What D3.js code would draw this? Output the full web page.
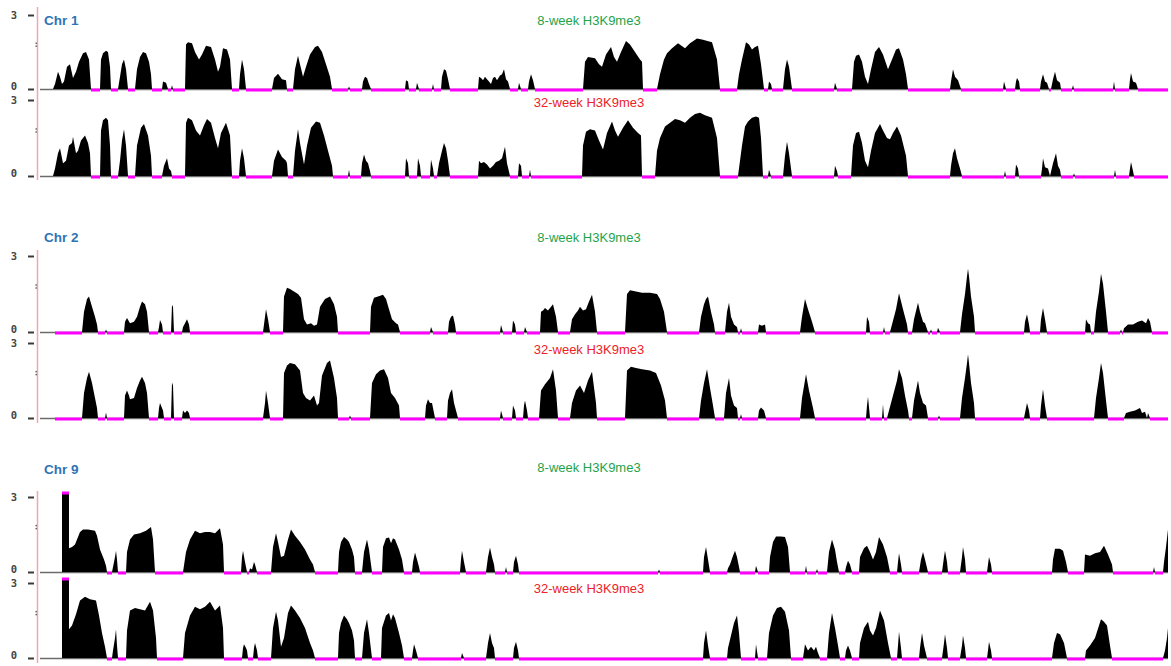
<!DOCTYPE html>
<html>
<head>
<meta charset="utf-8">
<script src="https://cdn.jsdelivr.net/npm/d3@7"></script>
<style>
  body { margin: 0; background: #fff; }
  svg { display: block; }
</style>
</head>
<body>
<svg id="chart" width="1171" height="666"></svg>
<script>
// H3K9me3 coverage profiles: [window position, signal] vertices.
// Runs of zero signal are drawn as magenta baseline segments.

const chromosomes = ["Chr 1", "Chr 2", "Chr 9"];
const trackLabels = ["8-week H3K9me3", "32-week H3K9me3"];
const axisTicks = [0, 3];
const midMark = 1.8;
const viewMax = 3.2;
const windowLength = 1128;

const chr1Week8 = [
  [13,0],[15,0.2],[18,0.7],[20,0.5],[22,0.2],[24,0.3],[27,0.9],[30,1.0],[33,0.45],[36,0.7],[39,1.1],[43,1.45],[46,1.5],[49,1.2],[51,0],
  [60,0],[61,1.2],[63,1.45],[66,1.55],[68,1.5],[70,0.9],[71,0],
  [78,0],[80,0.5],[82,1.0],[84,1.2],[86,0.8],[88,0],
  [95,0],[97,0.8],[100,1.3],[103,1.5],[106,1.45],[109,1.1],[111,0.6],[112,0],
  [122,0],[123,0.3],[126,0.25],[128,0],[131,0],[132,0.15],[133,0],
  [145,0],[146,1.8],[148,1.9],[152,1.85],[155,1.5],[159,1.2],[162,1.4],[166,1.75],[171,1.7],[175,1.2],[178,0.7],[180,0.9],[183,1.65],[187,1.6],[190,1.2],[192,0],
  [199,0],[200,0.6],[202,1.2],[204,0.8],[206,0],
  [232,0],[234,0.45],[238,0.62],[242,0.4],[246,0.35],[247,0],
  [253,0],[255,0.8],[258,1.35],[260,1.0],[263,0.5],[266,0.9],[270,1.4],[275,1.7],[278,1.75],[282,1.5],[286,1.0],[290,0.5],[292,0],
  [308,0],[309,0.1],[310,0],
  [322,0],[323,0.3],[325,0.5],[327,0.45],[329,0.2],[331,0],
  [365,0],[366,0.35],[368,0.3],[369,0],
  [376,0],[377,0.25],[379,0],
  [392,0],[393,0.2],[394,0],
  [401,0],[402,0.5],[404,0.8],[406,0.75],[408,0.4],[410,0],
  [438,0],[439,0.5],[441,0.45],[443,0.35],[445,0.5],[447,0.4],[449,0.3],[451,0.2],[453,0.45],[455,0.5],[457,0.35],[460,0.55],[462,0.6],[464,0.8],[466,0.4],[468,0.3],[470,0],
  [478,0],[479,0.25],[481,0],
  [488,0],[489,0.3],[491,0.6],[493,0.35],[495,0],
  [543,0],[545,1.1],[548,1.3],[555,1.25],[559,1.0],[562,0.9],[566,1.4],[571,1.7],[574,1.3],[577,1.1],[581,1.5],[586,1.95],[590,1.8],[595,1.5],[600,1.2],[602,1.1],[603,0],
  [617,0],[620,0.6],[624,1.2],[627,1.45],[632,1.65],[638,1.85],[645,1.65],[650,1.85],[657,2.05],[663,2.0],[672,1.9],[677,1.2],[680,0],
  [697,0],[699,0.6],[702,1.2],[706,1.9],[709,1.8],[712,1.6],[715,1.7],[718,1.75],[721,1.0],[724,0],
  [728,0],[729,0.3],[731,0.2],[732,0],
  [743,0],[745,0.8],[747,1.2],[749,0.9],[752,0],
  [794,0],[795,0.25],[797,0],
  [812,0],[814,1.1],[816,1.35],[819,1.4],[822,1.1],[825,0.5],[828,0.2],[831,0.8],[835,1.5],[839,1.7],[843,1.4],[848,0.8],[852,1.2],[856,1.6],[859,1.65],[863,1.2],[866,0.6],[868,0],
  [910,0],[911,0.3],[913,0.8],[915,0.5],[918,0.35],[921,0],
  [963,0],[964,0.3],[966,0],
  [975,0],[976,0.3],[977,0.45],[979,0.3],[980,0],
  [1000,0],[1001,0.3],[1003,0.6],[1005,0.3],[1007,0.25],[1009,0],[1011,0],[1013,0.4],[1015,0.7],[1017,0.35],[1020,0.25],[1021,0],
  [1032,0],[1033,0.15],[1034,0],
  [1073,0],[1074,0.3],[1075,0],
  [1089,0],[1090,0.4],[1091,0.65],[1093,0.3],[1096,0.25],[1098,0],
  [1128,0]
];

const chr1Week32 = [
  [13,0],[15,0.3],[18,0.9],[20,1.1],[23,0.5],[26,0.6],[29,1.2],[32,1.3],[33,1.55],[36,0.9],[38,1.0],[41,1.4],[45,1.6],[48,1.3],[50,0.9],[51,0],
  [60,0],[61,1.8],[63,2.2],[66,2.3],[68,2.2],[70,1.2],[71,0],
  [78,0],[80,0.6],[82,1.4],[84,1.85],[86,1.2],[88,0],
  [95,0],[97,1.2],[101,1.9],[104,2.05],[108,1.6],[111,0.8],[112,0],
  [122,0],[124,0.4],[127,0.7],[129,0.3],[131,0.2],[132,0],
  [145,0],[146,2.1],[148,2.3],[152,2.2],[156,1.8],[160,1.6],[164,2.0],[167,2.25],[171,2.1],[175,1.5],[178,1.1],[181,1.7],[186,2.1],[190,1.6],[192,0],
  [199,0],[200,0.6],[202,1.1],[204,0.7],[206,0],
  [232,0],[234,0.6],[238,1.05],[242,0.75],[246,0.6],[247,0.5],[248,0],
  [253,0],[255,1.0],[258,1.85],[260,1.3],[264,0.45],[267,1.2],[271,1.9],[276,2.15],[280,2.1],[284,1.6],[288,1.0],[292,0.4],[293,0],
  [308,0],[309,0.25],[310,0],
  [321,0],[322,0.5],[324,0.85],[326,0.6],[328,0.5],[330,0.2],[331,0],
  [365,0],[366,0.7],[368,0.5],[369,0],
  [377,0],[378,0.7],[380,0.4],[381,0],
  [390,0],[391,0.65],[393,0.3],[394,0],
  [397,0],[399,0.5],[402,1.0],[404,1.3],[406,1.1],[408,0.6],[410,0],
  [438,0],[439,0.6],[441,0.5],[444,0.55],[447,0.45],[450,0.3],[453,0.4],[456,0.55],[459,0.6],[462,0.7],[465,1.15],[467,0.5],[470,0],
  [478,0],[479,0.5],[481,0.4],[482,0],
  [489,0],[490,0.25],[491,0],
  [542,0],[543,1.2],[546,1.75],[550,1.85],[555,1.8],[559,1.4],[563,1.05],[567,1.7],[572,2.15],[575,1.8],[578,1.55],[583,1.9],[588,2.2],[593,1.9],[598,1.7],[601,1.6],[602,0],
  [615,0],[617,1.0],[620,1.5],[625,1.95],[630,2.1],[635,2.25],[640,2.2],[645,2.1],[650,2.3],[655,2.45],[660,2.5],[665,2.4],[672,2.3],[677,1.5],[680,0],
  [698,0],[700,0.6],[702,1.2],[705,1.95],[708,2.15],[712,2.3],[716,2.35],[719,2.3],[721,1.5],[723,0],
  [728,0],[729,0.25],[731,0],
  [743,0],[745,0.8],[747,1.35],[749,0.9],[752,0],
  [794,0],[795,0.4],[797,0.2],[798,0],
  [811,0],[813,1.2],[816,1.7],[819,1.75],[822,1.3],[825,0.6],[828,0.35],[831,1.0],[835,1.7],[840,2.05],[843,1.8],[847,1.5],[850,1.45],[853,1.7],[857,1.95],[861,1.6],[866,0.8],[868,0],
  [910,0],[911,0.4],[913,0.9],[915,1.1],[917,0.7],[920,0.3],[922,0],
  [964,0],[965,0.2],[966,0],
  [975,0],[976,0.45],[978,0.3],[979,0],
  [1001,0],[1002,0.3],[1003,0.7],[1005,0.35],[1008,0.3],[1010,0],[1013,0.5],[1016,0.9],[1018,0.4],[1020,0.25],[1021,0],
  [1033,0],[1034,0.1],[1035,0],
  [1074,0],[1075,0.25],[1076,0],
  [1089,0],[1090,0.3],[1091,0.55],[1093,0.2],[1094,0],
  [1128,0]
];

const chr2Week8 = [
  [15,0],
  [42,0],[44,0.8],[47,1.3],[49,1.4],[52,1.0],[55,0.6],[57,0.3],[58,0],
  [65,0],[66,0.1],[67,0],
  [84,0],[85,0.4],[87,0.55],[90,0.35],[94,0.4],[97,0.6],[100,1.0],[102,1.2],[105,1.1],[107,0.8],[109,0],
  [118,0],[119,0.2],[120,0.47],[122,0.3],[123,0],
  [131,0],[132,1.07],[133,1.0],[134,0],
  [142,0],[143,0.2],[145,0.35],[147,0.5],[149,0.3],[150,0],
  [223,0],[225,0.6],[226,0.9],[228,0.5],[230,0],
  [243,0],[244,1.4],[247,1.75],[250,1.7],[254,1.6],[258,1.5],[261,1.35],[264,0.5],[267,0.3],[271,0.35],[274,0.25],[277,0.3],[280,1.0],[285,1.3],[290,1.4],[294,1.1],[297,0.6],[298,0],
  [330,0],[331,1.0],[334,1.35],[338,1.4],[343,1.47],[346,1.3],[349,0.9],[352,0.5],[356,0.35],[358,0.3],[360,0],
  [390,0],[391,0.2],[393,0],
  [408,0],[409,0.4],[411,0.6],[413,0.65],[415,0.3],[416,0],
  [460,0],[461,0.28],[463,0],
  [472,0],[473,0.45],[475,0.3],[476,0],
  [484,0],[485,0.2],[487,0],
  [500,0],[501,0.8],[503,0.85],[505,0.95],[508,0.85],[511,1.0],[513,1.1],[516,0.6],[518,0],
  [530,0],[532,0.5],[535,0.7],[538,0.85],[540,1.0],[543,0.85],[546,0.9],[549,1.2],[552,1.47],[555,0.8],[557,0],
  [585,0],[587,1.5],[590,1.65],[596,1.6],[602,1.55],[610,1.55],[617,1.5],[620,1.3],[624,0.8],[627,0],
  [659,0],[661,0.6],[664,1.1],[666,1.3],[668,1.4],[671,0.8],[674,0.3],[675,0],
  [685,0],[687,0.8],[689,1.15],[691,0.6],[694,0.3],[697,0.2],[698,0],
  [700,0],[701,0.15],[702,0],
  [718,0],[719,0.3],[722,0.25],[725,0.3],[726,0],
  [760,0],[762,0.6],[765,1.3],[768,0.9],[772,0.4],[775,0],
  [826,0],[827,0.6],[829,0.4],[830,0],
  [843,0],[844,0.2],[845,0],
  [850,0],[852,0.3],[856,0.9],[859,1.53],[863,0.9],[867,0.3],[868,0],
  [872,0],[874,0.5],[878,1.15],[880,0.8],[883,0.4],[885,0.35],[888,0],
  [890,0],[891,0.1],[892,0],
  [897,0],[898,0.17],[900,0],
  [920,0],[922,0.7],[925,1.5],[927,2.2],[928,2.5],[929,2.2],[931,1.4],[934,0.6],[935,0],
  [984,0],[985,0.4],[987,0.7],[989,0.3],[990,0],
  [1000,0],[1001,0.5],[1003,0.95],[1005,0.5],[1007,0],
  [1045,0],[1046,0.5],[1048,0.35],[1050,0.3],[1051,0],
  [1054,0],[1056,0.8],[1059,1.6],[1061,2.3],[1063,1.9],[1066,0.8],[1068,0],
  [1080,0],[1081,0.1],[1082,0],
  [1083,0],[1084,0.15],[1088,0.3],[1093,0.3],[1098,0.4],[1102,0.45],[1106,0.35],[1108,0.55],[1110,0.4],[1112,0],
  [1128,0]
];

const chr2Week32 = [
  [15,0],
  [42,0],[44,1.0],[47,1.6],[49,1.85],[52,1.4],[55,0.8],[57,0.4],[58,0],
  [65,0],[66,0.22],[67,0],
  [84,0],[85,0.9],[87,1.1],[89,0.9],[90,0.75],[94,0.8],[97,1.2],[100,1.5],[102,1.65],[105,1.4],[107,1.0],[109,0],
  [118,0],[119,0.4],[120,0.6],[122,0.4],[123,0.3],[124,0],
  [131,0],[132,1.42],[133,1.3],[134,0],
  [142,0],[143,0.3],[145,0.2],[147,0.3],[149,0.2],[150,0],
  [223,0],[225,0.6],[226,1.1],[228,0.6],[230,0],
  [243,0],[244,1.8],[247,2.1],[250,2.2],[255,2.15],[260,1.9],[263,1.0],[266,0.8],[270,0.7],[274,0.9],[277,0.5],[279,0.6],[282,1.7],[287,2.2],[290,2.3],[294,1.6],[297,0.8],[298,0],
  [309,0],[310,0.1],[311,0],
  [330,0],[332,1.4],[336,1.75],[340,1.9],[344,1.95],[348,1.6],[351,1.0],[355,0.8],[359,0.5],[360,0],
  [385,0],[386,0.5],[388,0.75],[390,0.6],[392,0.6],[395,0],
  [407,0],[408,0.7],[410,1.0],[412,1.15],[414,0.6],[418,0],
  [460,0],[461,0.3],[463,0],
  [472,0],[473,0.5],[475,0.3],[476,0],
  [483,0],[484,0.5],[485,0.7],[487,0.3],[488,0],
  [499,0],[501,1.1],[505,1.35],[510,1.6],[513,1.95],[516,1.1],[518,0],
  [530,0],[532,0.6],[536,1.1],[540,1.3],[544,1.0],[548,1.5],[552,1.85],[556,0.6],[557,0],
  [585,0],[587,1.9],[591,2.05],[596,2.0],[602,1.95],[610,1.9],[616,1.8],[621,1.3],[625,0.7],[627,0],
  [659,0],[661,0.7],[664,1.4],[667,1.95],[670,1.2],[673,0.5],[675,0],
  [684,0],[686,1.0],[689,1.6],[691,0.9],[694,0.5],[697,0.4],[698,0],
  [700,0],[701,0.15],[702,0],
  [718,0],[719,0.3],[721,0.42],[724,0.3],[726,0],
  [760,0],[762,0.8],[766,1.75],[769,1.1],[773,0.4],[775,0],
  [826,0],[827,0.5],[828,0.85],[830,0],
  [842,0],[843,0.55],[844,0],
  [847,0],[849,0.3],[853,0.9],[857,1.5],[859,1.95],[862,1.6],[865,0.9],[868,0.3],[869,0],
  [872,0],[874,0.7],[878,1.5],[880,1.0],[883,0.6],[886,0.5],[888,0],
  [898,0],[899,0.1],[900,0],
  [920,0],[922,0.8],[925,1.6],[927,2.2],[928,2.55],[929,2.2],[931,1.4],[934,0.6],[935,0],
  [984,0],[986,0.4],[987,0.6],[989,0.3],[990,0],
  [1000,0],[1001,0.5],[1003,1.15],[1005,0.5],[1007,0],
  [1054,0],[1056,0.8],[1059,1.6],[1061,2.2],[1063,1.8],[1066,0.7],[1068,0],
  [1084,0],[1086,0.2],[1090,0.25],[1095,0.3],[1100,0.4],[1102,0.2],[1105,0.25],[1107,0],[1108,0.2],[1110,0],
  [1128,0]
];

const chr9Week8 = [
  [22,0],[22,4],[29,4],[29,0.95],[32,1.0],[35,1.1],[40,1.6],[43,1.7],[48,1.7],[55,1.65],[57,1.45],[60,0.9],[64,0.5],[66,0.25],[67,0],
  [72,0],[73,0.2],[75,0.6],[76,0.85],[77,0.5],[78,0],
  [86,0],[87,0.8],[90,1.3],[94,1.5],[100,1.55],[106,1.65],[111,1.8],[113,1.3],[115,0],
  [143,0],[146,0.8],[150,1.3],[155,1.65],[160,1.55],[165,1.6],[170,1.6],[175,1.55],[180,1.75],[183,1.1],[184,0],
  [201,0],[202,0.6],[203,0.85],[205,0.4],[206,0.2],[207,0],
  [209,0],[210,0.15],[212,0.1],[214,0.4],[215,0.3],[217,0],
  [231,0],[233,1.0],[236,1.55],[238,1.2],[241,0.6],[244,0.65],[248,1.3],[251,1.7],[255,1.45],[260,1.2],[265,0.9],[270,0.5],[273,0.3],[275,0],
  [298,0],[299,0.8],[301,1.2],[304,1.4],[307,1.3],[309,1.2],[312,0.9],[314,0.6],[315,0],
  [322,0],[324,0.8],[327,1.3],[329,0.9],[332,0],
  [342,0],[343,1.0],[346,1.35],[349,1.38],[351,1.15],[353,1.35],[355,1.3],[359,0.9],[362,0.5],[364,0],
  [372,0],[373,0.4],[375,0.78],[377,0.5],[379,0.2],[380,0],
  [420,0],[421,0.5],[422,0.85],[424,0.4],[426,0],
  [446,0],[448,0.6],[450,0.98],[452,0.6],[454,0.3],[455,0],
  [465,0],[466,0.2],[467,0],
  [473,0],[474,0.4],[476,0.65],[478,0.3],[479,0],
  [618,0],[619,0.1],[620,0],
  [663,0],[664,0.6],[666,1.0],[668,0.5],[670,0],
  [687,0],[688,0.15],[690,0.3],[693,0.65],[695,0.85],[697,0.6],[700,0],
  [715,0],[716,0.25],[718,0],
  [729,0],[730,0.6],[733,1.2],[736,1.42],[741,1.42],[745,1.4],[748,1.0],[750,0],
  [765,0],[766,0.25],[767,0],
  [776,0],[777,0.12],[778,0],
  [787,0],[789,0.8],[792,1.3],[795,0.9],[797,0.4],[799,0],
  [805,0],[806,0.2],[808,0.45],[810,0.3],[812,0],
  [819,0],[820,0.6],[824,0.95],[827,1.05],[830,0.8],[833,0.5],[836,0.8],[839,1.4],[843,1.1],[847,0.6],[850,0],
  [857,0],[858,0.4],[859,0.75],[861,0.3],[862,0],
  [879,0],[881,0.5],[883,0.8],[885,0.5],[888,0],
  [902,0],[904,0.6],[905,0.85],[907,0.4],[908,0],
  [920,0],[922,0.6],[923,1.0],[925,0.5],[926,0],
  [947,0],[948,0.3],[949,0.6],[951,0.3],[952,0],
  [1012,0],[1013,0.5],[1015,0.93],[1020,0.93],[1023,0.85],[1026,0.4],[1028,0],
  [1044,0],[1045,0.7],[1050,0.65],[1055,0.75],[1060,0.8],[1064,1.05],[1068,0.7],[1072,0.3],[1073,0],
  [1113,0],[1114,0.2],[1115,0],
  [1123,0],[1124,0.4],[1126,1.0],[1128,1.7]
];

const chr9Week32 = [
  [22,0],[22,4],[29,4],[29,1.15],[32,1.3],[36,1.75],[40,2.3],[45,2.45],[50,2.35],[56,2.3],[59,1.7],[62,1.0],[65,0.45],[67,0],
  [72,0],[73,0.3],[75,0.8],[76,1.15],[77,0.5],[78,0],
  [86,0],[87,1.1],[90,1.9],[95,2.0],[100,1.95],[105,1.9],[110,2.25],[113,1.9],[116,0.8],[117,0],
  [143,0],[145,1.0],[150,1.7],[155,2.05],[160,1.95],[165,2.05],[170,2.25],[175,1.9],[180,2.1],[183,1.2],[184,0],
  [202,0],[203,0.4],[204,0.55],[206,0.4],[207,0.3],[208,0],
  [213,0],[214,0.4],[215,0.6],[217,0.3],[218,0],
  [231,0],[233,1.2],[236,1.85],[238,1.5],[241,0.45],[244,0.8],[248,1.8],[251,2.1],[255,1.9],[260,1.6],[265,1.2],[270,0.6],[273,0.3],[275,0],
  [298,0],[299,1.0],[301,1.4],[304,1.7],[307,1.55],[309,1.4],[312,1.1],[314,0.7],[315,0],
  [322,0],[324,1.0],[327,1.55],[329,1.0],[332,0],
  [341,0],[342,1.2],[346,1.7],[349,1.8],[351,1.5],[353,1.75],[355,1.6],[359,1.0],[362,0.5],[364,0],
  [372,0],[373,0.3],[374,0.55],[376,0.3],[378,0],
  [421,0],[422,0.2],[424,0],
  [446,0],[448,0.6],[450,1.0],[452,0.6],[454,0.4],[455,0],
  [473,0],[474,0.4],[476,0.65],[478,0.3],[479,0],
  [663,0],[664,0.6],[666,1.1],[668,0.5],[670,0],
  [687,0],[688,0.4],[691,0.9],[694,1.4],[697,1.7],[699,1.0],[701,0],
  [715,0],[716,0.55],[718,0],
  [727,0],[729,1.0],[733,1.7],[737,2.0],[741,2.05],[745,1.85],[749,1.1],[751,0],
  [763,0],[765,0.55],[768,0.3],[771,0.45],[774,0.3],[776,0.45],[778,0.2],[780,0],
  [787,0],[789,1.0],[792,1.8],[795,1.2],[798,0.5],[800,0],
  [805,0],[806,0.3],[808,0.5],[810,0.3],[812,0],
  [819,0],[820,0.6],[824,1.2],[828,1.45],[830,1.1],[833,0.9],[836,1.2],[840,1.9],[844,1.5],[848,0.6],[851,0],
  [857,0],[858,0.5],[859,1.05],[861,0.4],[862,0],
  [879,0],[880,0.4],[882,1.0],[884,0.5],[887,0],
  [902,0],[904,0.6],[905,0.95],[907,0.4],[908,0],
  [920,0],[922,0.5],[923,0.9],[925,0.4],[926,0],
  [947,0],[948,0.3],[949,0.65],[951,0.3],[952,0],
  [1012,0],[1014,0.6],[1017,1.0],[1020,0.95],[1024,0.6],[1027,0],
  [1045,0],[1046,0.3],[1050,0.5],[1055,0.8],[1059,1.3],[1061,1.55],[1064,1.45],[1067,1.3],[1070,0.5],[1072,0],
  [1123,0],[1125,0.3],[1127,0.8],[1128,1.2]
];

const panelTracks = [
  [chr1Week8, chr1Week32],
  [chr2Week8, chr2Week32],
  [chr9Week8, chr9Week32]
];

// Layout of each chromosome panel (pixels)
const layout = [
  { titleY: 25,  axisTop: 7,   axisBottom: 180,
    tracks: [{ top: 15,  base: 89,  labelY: 25 },  { top: 100, base: 176, labelY: 107 }] },
  { titleY: 242, axisTop: 250, axisBottom: 423,
    tracks: [{ top: 256, base: 332, labelY: 242 }, { top: 343, base: 418, labelY: 354 }] },
  { titleY: 474, axisTop: 491, axisBottom: 663,
    tracks: [{ top: 497, base: 572, labelY: 472 }, { top: 583, base: 658, labelY: 593 }] }
];

const labelColors = ["#1fa34a", "#ec2227"];
const magenta = "#ff00ff";

const svg = d3.select("#chart");
const x = d3.scaleLinear().domain([0, windowLength]).range([40, 1168]);

chromosomes.forEach((name, i) => {
  const L = layout[i];
  const g = svg.append("g");

  g.append("line")
    .attr("x1", 37.5).attr("x2", 37.5)
    .attr("y1", L.axisTop).attr("y2", L.axisBottom)
    .attr("stroke", "#f4a3b2").attr("stroke-width", 1.5);

  g.append("text")
    .attr("x", 44).attr("y", L.titleY)
    .attr("font-family", "Liberation Sans, Arial, sans-serif")
    .attr("font-size", 13.5).attr("font-weight", "bold")
    .attr("fill", "#2e74b5")
    .text(name);

  panelTracks[i].forEach((values, j) => {
    const T = L.tracks[j];
    const y = d3.scaleLinear().domain([0, 3]).range([T.base, T.top]);

    // grey baseline across the whole window
    g.append("line")
      .attr("x1", x(0)).attr("x2", x(windowLength))
      .attr("y1", T.base + 0.5).attr("y2", T.base + 0.5)
      .attr("stroke", "#6b6b6b").attr("stroke-width", 1.6);

    // signal
    const area = d3.area()
      .x(d => x(d[0]))
      .y0(T.base)
      .y1(d => y(Math.min(d[1], viewMax)))
      .curve(d3.curveLinear);
    g.append("path").datum(values)
      .attr("d", area)
      .attr("fill", "#000");

    // zero-signal stretches
    const zeroRuns = d3.pairs(values).filter(([a, b]) => a[1] === 0 && b[1] === 0 && b[0] > a[0]);
    g.selectAll(null).data(zeroRuns).join("line")
      .attr("x1", d => x(d[0][0])).attr("x2", d => x(d[1][0]))
      .attr("y1", T.base + 1).attr("y2", T.base + 1)
      .attr("stroke", magenta).attr("stroke-width", 3);

    // values above the view range get a magenta cap
    const clipped = d3.pairs(values).filter(([a, b]) => a[1] > viewMax && b[1] > viewMax);
    g.selectAll(null).data(clipped).join("line")
      .attr("x1", d => x(d[0][0])).attr("x2", d => x(d[1][0]))
      .attr("y1", y(viewMax) + 1).attr("y2", y(viewMax) + 1)
      .attr("stroke", magenta).attr("stroke-width", 3);

    // axis ticks; the zero label sits a little above its tick
    const axis = d3.axisLeft(y)
      .tickValues(axisTicks)
      .tickSize(6)
      .tickPadding(11)
      .tickFormat(d3.format("d"));
    const ag = g.append("g").attr("transform", "translate(34,0)").call(axis);
    ag.select(".domain").remove();
    ag.selectAll(".tick line").attr("stroke", "#3a3a3a").attr("stroke-width", 2);
    ag.selectAll(".tick text")
      .attr("font-family", "DejaVu Sans Mono, monospace")
      .attr("font-size", 10.5).attr("font-weight", "bold")
      .attr("fill", "#444")
      .attr("y", d => d === 0 ? -3 : 0);

    // small mid-scale mark
    g.selectAll(null).data([-1.5, 1.5]).join("rect")
      .attr("x", 35.5).attr("y", d => y(midMark) + d - 0.6)
      .attr("width", 1.4).attr("height", 1.4)
      .attr("fill", "#555");

    g.append("text")
      .attr("x", 589).attr("y", T.labelY)
      .attr("text-anchor", "middle")
      .attr("font-family", "Liberation Sans, Arial, sans-serif")
      .attr("font-size", 13)
      .attr("fill", labelColors[j])
      .text(trackLabels[j]);
  });
});
</script>
</body>
</html>
